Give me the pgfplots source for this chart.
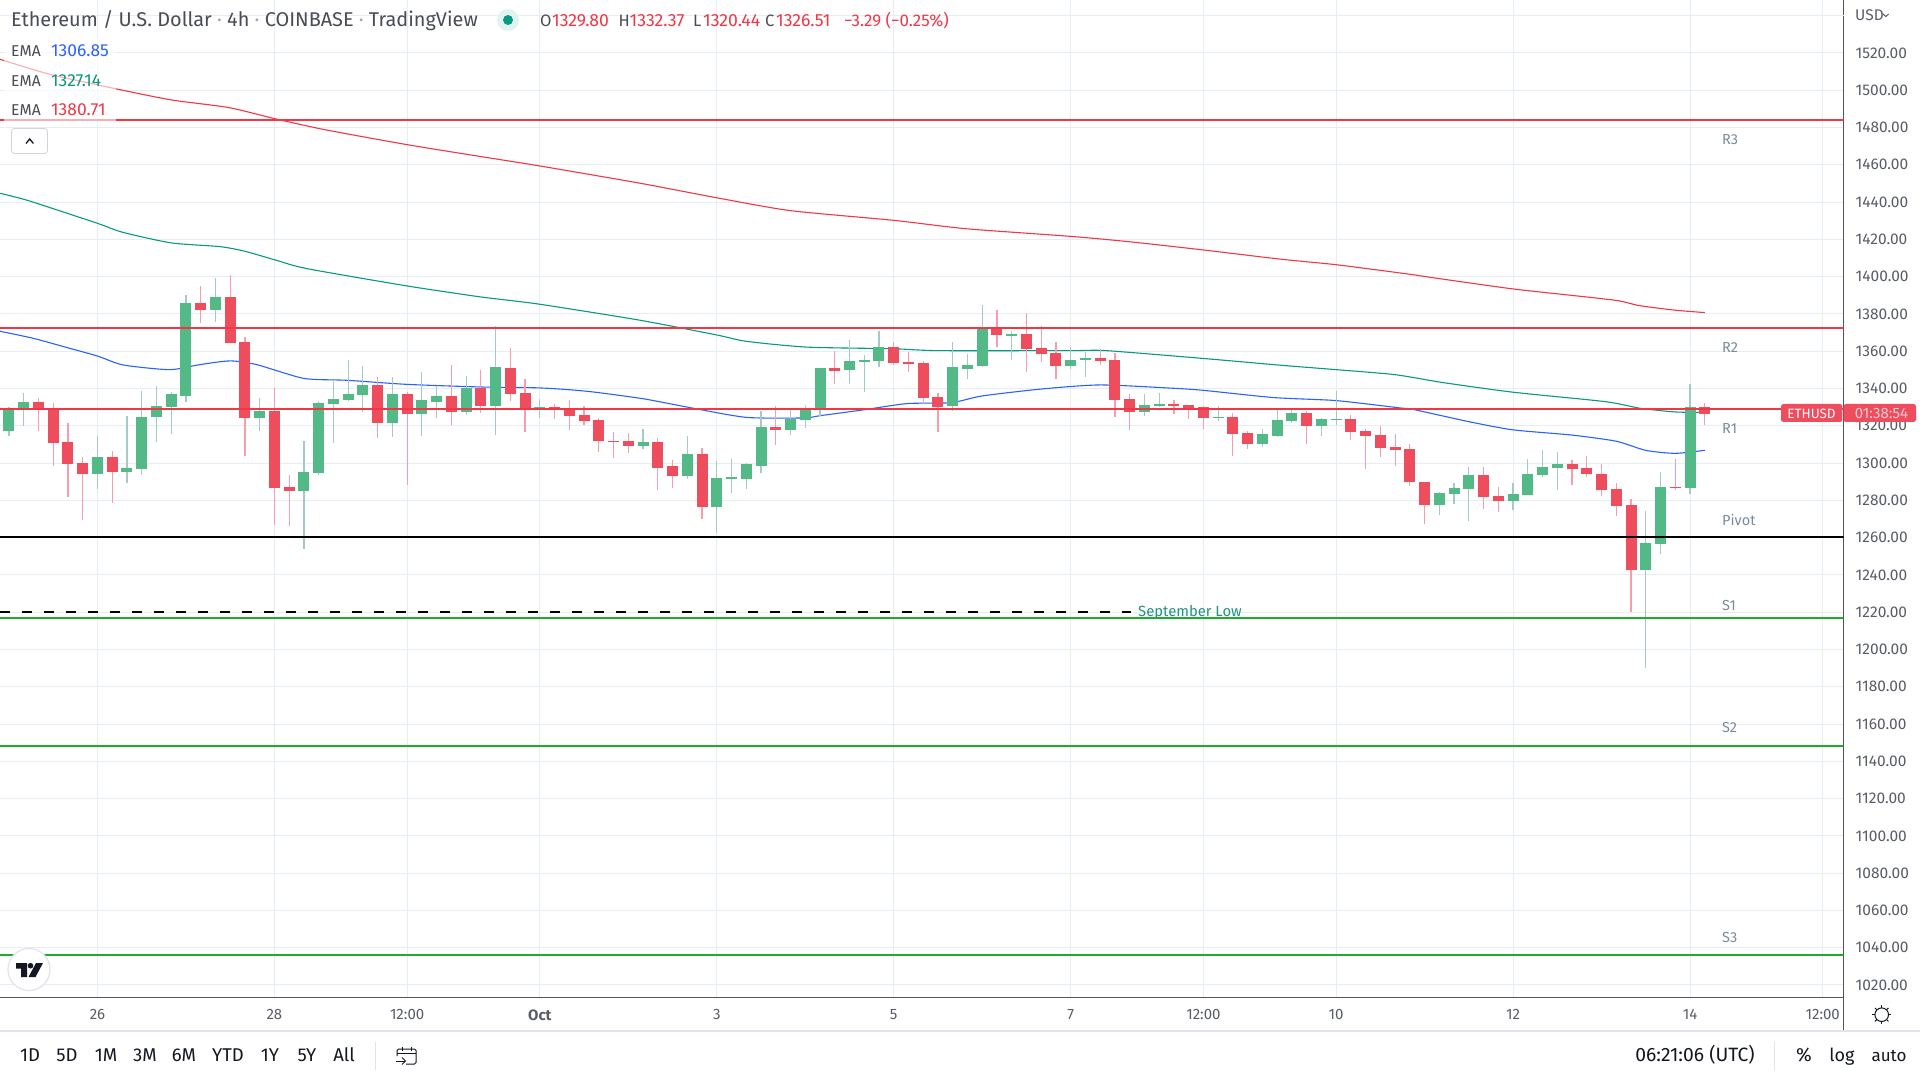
\documentclass[border=0pt]{standalone}
\usepackage{pgfplots}
\pgfplotsset{compat=1.18}
\usepackage{pgfplotstable}
\usepackage{fontspec}
\setmainfont{Fira Sans}
\definecolor{gridc}{HTML}{E6EEF4}
\definecolor{axisc}{HTML}{50535E}
\definecolor{tickc}{HTML}{5A5D68}
\definecolor{bodyG}{HTML}{53B987}
\definecolor{bodyR}{HTML}{EE4D5E}
\definecolor{wickG}{HTML}{A5C9C8}
\definecolor{wickR}{HTML}{F99CAB}
\definecolor{lineR}{HTML}{F23645}
\definecolor{lineG}{HTML}{1CAD2B}
\definecolor{emaB}{HTML}{2962FF}
\definecolor{emaG}{HTML}{089981}
\definecolor{emaR}{HTML}{F23645}
\definecolor{pivotc}{HTML}{7A8B9C}
\definecolor{sepc}{HTML}{E0E3EB}
\definecolor{darkc}{HTML}{131722}
\definecolor{titlec}{HTML}{4A4C55}
\definecolor{dotc}{HTML}{A0A3AC}

\pgfplotstableread{
i top bot hi lo
0 1329 1317.2 1330.1 1314.5
1 1332.8 1329 1337.6 1319.9
6 1303.2 1294.1 1314.5 1286.1
8 1297.4 1295.2 1325.2 1289.3
9 1324.7 1296.8 1338.7 1293.6
10 1330.6 1324.7 1341.3 1311.3
11 1337.1 1330.1 1338.1 1315.6
12 1385.9 1336 1390.2 1332.8
14 1389.1 1382.1 1399.3 1375.7
17 1327.9 1324.2 1334.9 1317.2
20 1295.2 1285 1311.8 1253.9
21 1332.2 1294.7 1333.3 1293.6
22 1334.4 1331.7 1344 1310.8
23 1337.1 1333.8 1355.3 1333.3
24 1341.9 1336.5 1352.1 1327.4
26 1337.1 1321.5 1346.2 1314
28 1333.8 1326.3 1348.9 1314.5
29 1336 1332.8 1341.3 1324.2
31 1340.3 1327.4 1346.7 1325.8
33 1351.5 1330.6 1373.5 1315.1
36 1330.1 1329.5 1334.4 1324.2
43 1311.3 1309.2 1318.3 1307.5
46 1304.9 1293 1314.5 1291.4
48 1292 1276.4 1301.1 1262.5
49 1292.5 1291.4 1302.2 1283.9
50 1299.5 1291.4 1300 1286.1
51 1319.3 1298.4 1327.9 1294.7
53 1323.6 1317.7 1328.5 1315.1
54 1328.5 1323.1 1331.2 1318.8
55 1351 1329.4 1351 1325.2
57 1354.8 1349.9 1366 1342.4
58 1355.3 1354.2 1358 1338.1
59 1362.3 1354.8 1370.8 1351.5
64 1351.5 1330.6 1364.9 1327.9
65 1352.6 1350.5 1358.5 1345.1
66 1371.9 1352.1 1384.8 1351.5
68 1369.2 1368.2 1370.8 1355.3
72 1355.3 1352.1 1362.3 1350.5
73 1356.4 1355.3 1359.6 1346.2
77 1331.1 1327.4 1337.1 1325.2
78 1331.7 1330.6 1337.6 1330.1
82 1324.7 1324.2 1330.6 1322.6
85 1315.6 1310.2 1318.3 1308.6
86 1323.1 1314.5 1328.5 1314
87 1326.9 1322.6 1328.5 1321.5
89 1323.6 1319.9 1324.2 1314.5
90 1323.6 1323.1 1338.7 1320.4
97 1283.9 1277.5 1284.5 1272.1
98 1286.6 1283.4 1289.3 1278
99 1293.6 1286.1 1297.9 1268.9
102 1283.4 1279.6 1289.3 1274.8
103 1294.1 1282.9 1302.2 1282.9
104 1297.9 1293.6 1307 1292.5
105 1299.5 1297.4 1305.9 1285.5
111 1257.1 1242.6 1274.3 1190
112 1287.2 1256.6 1295.2 1251.2
114 1330.1 1286.6 1342.4 1283.4
}\greentable

\pgfplotstableread{
i top bot hi lo
2 1332.8 1329 1334.9 1317.2
3 1329 1310.8 1332.2 1298.4
4 1311.3 1299.5 1321.5 1281.8
5 1300 1294.1 1303.2 1269.4
7 1303.2 1295.2 1306.5 1278.6
13 1385.9 1382.1 1395 1375.1
15 1389.1 1364.4 1400.9 1364.4
16 1364.9 1324.2 1367.6 1303.8
18 1327.9 1286.6 1340.3 1266.8
19 1287.2 1285 1293.6 1266.2
25 1341.9 1321.5 1346.2 1313.4
27 1337.1 1326.3 1338.1 1288.2
30 1336 1327.4 1352.6 1320.4
32 1340.3 1330.6 1349.9 1326.9
34 1351 1337.1 1361.7 1333.3
35 1337.6 1329 1345.1 1316.7
37 1330.1 1329 1331.7 1323.6
38 1329 1325.2 1333.8 1317.7
39 1325.8 1322.6 1330.6 1320.4
40 1323.1 1311.8 1324.2 1305.9
41 1311.8 1311.3 1316.7 1302.7
42 1311.8 1309.2 1316.1 1305.4
44 1311.3 1297.4 1313.4 1285.5
45 1298.4 1293 1301.6 1286.6
47 1304.9 1276.4 1308.1 1270
52 1319.3 1317.7 1330.6 1309.7
56 1351 1349.4 1360.1 1342.4
60 1362.3 1353.7 1364.9 1352.6
61 1354.2 1353.1 1359.6 1348.8
62 1353.7 1334.9 1354.8 1331.7
63 1335.4 1330.1 1337.6 1316.7
67 1371.9 1368.7 1382.1 1362.3
69 1369.2 1361.2 1380.5 1348.8
70 1361.7 1358.5 1373.5 1354.2
71 1359 1352.1 1364.9 1345.1
74 1356.4 1354.8 1361.2 1352.6
75 1355.3 1333.8 1359 1324.7
76 1334.4 1327.4 1337.1 1317.7
79 1331.7 1330.6 1333.8 1326.3
80 1331.1 1329 1331.1 1323.6
81 1330.1 1324.2 1330.6 1318.3
83 1324.7 1315.6 1326.9 1303.8
84 1316.1 1310.2 1317.2 1307.5
88 1326.9 1319.9 1328 1310.2
91 1323.6 1316.7 1325.8 1312.4
92 1317.2 1314.5 1318.3 1296.8
93 1315 1308.1 1319.9 1303.2
94 1308.6 1307 1315.6 1298.4
95 1307.5 1289.8 1310.2 1287.7
96 1289.8 1277.5 1289.8 1267.3
100 1293.6 1281.8 1297.9 1275.4
101 1282.3 1279.6 1287.2 1273.8
106 1299.5 1296.8 1301.6 1288.2
107 1297.4 1294.1 1303.8 1292.5
108 1294.1 1285.5 1299.5 1282.3
109 1286.1 1277 1289.3 1271.6
110 1277.5 1242.6 1280.7 1220.1
113 1287.2 1286.6 1302.2 1285.5
115 1329.8 1326.51 1332.37 1320.44
}\redtable

\newcommand{\lab}[6][west]{\node[anchor=#1,inner sep=0pt,text=#4,text height=0.72em,text depth=0pt,font=\fontsize{#5}{#5}\selectfont] at (#2,{1080-#3-1.5}) {#6};}

\begin{document}
\begin{tikzpicture}[x=1pt,y=1pt]
\path[use as bounding box] (0,0) rectangle (1920,1080);
\fill[white] (0,0) rectangle (1920,1080);
\begin{axis}[
  at={(0pt,82.7pt)}, anchor=south west,
  scale only axis, width=1843.5pt, height=997.3pt,
  xmin=-0.61, xmax=124.41, ymin=1013.4, ymax=1548.4,
  axis y line*=right, axis x line*=bottom,
  axis line style={color=axisc,line width=1.3pt,-},
  tick style={draw=none},
  grid=major,
  major grid style={color=gridc,line width=1pt},
  xtick={6,18,27,36,48,60,72,81,90,102,114,123},
  xticklabels={26,28,12:00,\bfseries Oct,3,5,7,12:00,10,12,14,12:00},
  ytick={1020,1040,...,1520},
  extra y ticks={1540},
  extra y tick labels={},
  extra y tick style={grid=major},
  /pgf/number format/assume math mode=true,
  /pgf/number format/fixed,
  /pgf/number format/fixed zerofill,
  /pgf/number format/precision=2,
  /pgf/number format/1000 sep={},
  scaled y ticks=false,
  yticklabel style={anchor=west,inner sep=0pt,xshift=12pt,text=tickc,font=\fontsize{15.5}{15.5}\selectfont},
  xticklabel style={anchor=north,inner sep=0pt,yshift=-12pt,text=tickc,font=\fontsize{15}{15}\selectfont},
]
% EMA lines
\addplot[emaR,line width=1.1pt,forget plot,smooth,tension=0.4] coordinates {(-0.61,1516.6)(2.7,1508.7)(7.1,1501)(11,1494.8)(14.9,1490.7)(18.2,1484.4)(21.5,1478.7)(27,1470.8)(32,1464.4)(35.9,1459.5)(42.8,1450.1)(48,1442.3)(53,1435.4)(60,1430.2)(64.9,1425.7)(72,1421.6)(76,1418.7)(81,1414.3)(86.2,1409.4)(90,1406.4)(94.5,1401.8)(97.3,1398.6)(102,1393.4)(107.2,1388.9)(109.2,1387)(110.6,1384.4)(113,1382)(115,1380.71)};
\addplot[emaG,line width=1.1pt,forget plot,smooth,tension=0.4] coordinates {(-0.61,1444.7)(1.3,1440.8)(6,1428.6)(7.7,1423.8)(11,1418.1)(14.3,1416.1)(16,1413.6)(18.2,1408.6)(20.2,1404.3)(27,1395)(32,1389.1)(35.9,1385.3)(42.8,1376.6)(48,1368.7)(50,1365.3)(54.1,1362.2)(60,1361.3)(63,1360.3)(72,1360.3)(74.4,1360.3)(81,1356.1)(86.2,1352.5)(90,1350.1)(94,1347.4)(97.3,1343.1)(102,1338)(108.3,1332.9)(110.6,1329.4)(113,1327.4)(115,1327.14)};
\addplot[emaB,line width=1.1pt,forget plot,smooth,tension=0.4] coordinates {(-0.61,1370.7)(1.65,1366.9)(3.91,1362)(6,1357.4)(7.75,1352.6)(10.9,1350.1)(12.95,1352.8)(15,1354.8)(16.8,1352.8)(20,1345.4)(22.9,1344.4)(27,1342.2)(32,1340.8)(36,1340.3)(39.2,1338.5)(43,1334.5)(46.2,1329.7)(50,1324.5)(53.9,1324.2)(55,1325.4)(58,1328.6)(60.9,1331.9)(63.9,1332.4)(66,1336)(70,1339.7)(74,1341.9)(79,1340.1)(81,1339)(85.8,1335.1)(90,1333.5)(94.3,1329.6)(95.2,1328.8)(99,1322.2)(102,1317.8)(106,1315)(109,1311.7)(111,1306.8)(113,1305.2)(115,1306.85)};
% wicks
\addplot[forget plot,draw=none,mark=none,error bars/.cd,y dir=both,y explicit,error mark=none,error bar style={color=wickG,line width=1.2pt}] table[x=i,y=bot,y error plus expr=\thisrow{hi}-\thisrow{bot},y error minus expr=\thisrow{bot}-\thisrow{lo}] {\greentable};
\addplot[forget plot,draw=none,mark=none,error bars/.cd,y dir=both,y explicit,error mark=none,error bar style={color=wickR,line width=1.2pt}] table[x=i,y=bot,y error plus expr=\thisrow{hi}-\thisrow{bot},y error minus expr=\thisrow{bot}-\thisrow{lo}] {\redtable};
% bodies
\addplot[forget plot,draw=none,mark=none,error bars/.cd,y dir=plus,y explicit,error mark=none,error bar style={color=bodyG,line width=11pt}] table[x=i,y=bot,y error plus expr=\thisrow{top}-\thisrow{bot}] {\greentable};
\addplot[forget plot,draw=none,mark=none,error bars/.cd,y dir=plus,y explicit,error mark=none,error bar style={color=bodyR,line width=11pt}] table[x=i,y=bot,y error plus expr=\thisrow{top}-\thisrow{bot}] {\redtable};
% levels
\addplot[lineR,line width=2pt,forget plot] coordinates {(-0.61,1484)(124.41,1484)};
\addplot[lineR,line width=2pt,forget plot] coordinates {(-0.61,1372.4)(124.41,1372.4)};
\addplot[lineR,line width=2pt,forget plot] coordinates {(-0.61,1329)(124.41,1329)};
\addplot[black,line width=2pt,forget plot] coordinates {(-0.61,1260.5)(124.41,1260.5)};
\addplot[black,line width=2pt,dash pattern=on 10pt off 12pt,forget plot] coordinates {(-0.61,1220.1)(76.1,1220.1)};
\addplot[lineG,line width=2pt,forget plot] coordinates {(-0.61,1217.1)(124.41,1217.1)};
\addplot[lineG,line width=2pt,forget plot] coordinates {(-0.61,1148.4)(124.41,1148.4)};
\addplot[lineG,line width=2pt,forget plot] coordinates {(-0.61,1036.1)(124.41,1036.1)};
\end{axis}
% legend veil
\fill[white,opacity=0.6] (4,{1080-38}) rectangle (116,{1080-121});
% level labels
\lab{1722}{139}{pivotc}{14.5}{R3}
\lab{1722}{347}{pivotc}{14.5}{R2}
\lab{1722}{428.5}{pivotc}{14.5}{R1}
\lab{1722}{520}{pivotc}{14.5}{Pivot}
\lab{1722}{605}{pivotc}{14.5}{S1}
\lab{1722}{727}{pivotc}{14.5}{S2}
\lab{1722}{937}{pivotc}{14.5}{S3}
\lab{1138}{611}{emaG!80!gray}{14.8}{September Low}
% title
\lab{11}{21}{titlec}{19.9}{Ethereum / U.S. Dollar \textcolor{dotc}{·} 4h \textcolor{dotc}{·} COINBASE \textcolor{dotc}{·} TradingView}
\fill[emaG!12] (508,{1080-20}) circle (11);
\fill[emaG] (508,{1080-20}) circle (5);
\lab{540}{21}{titlec}{16.5}{O}
\lab{552}{21}{lineR}{17.6}{1329.80}
\lab{618.4}{21}{titlec}{16.5}{H}
\lab{629.5}{21}{lineR}{17.6}{1332.37}
\lab{693}{21}{titlec}{16.5}{L}
\lab{703}{21}{lineR}{17.6}{1320.44}
\lab{765}{21}{titlec}{16.5}{C}
\lab{776}{21}{lineR}{17.6}{1326.51}
\lab{844}{21}{lineR}{16.9}{−3.29 (−0.25\%)}
\lab{11}{51}{titlec}{15.7}{EMA}
\lab{51}{51}{emaB}{17.4}{1306.85}
\lab{11}{81}{titlec}{15.7}{EMA}
\lab{51}{81}{emaG}{17.4}{1327.14}
\lab{11}{110.5}{titlec}{15.7}{EMA}
\lab{51}{110.5}{emaR}{17.4}{1380.71}
% collapse button
\draw[sepc!85!gray,fill=white,line width=0.8pt,rounded corners=3pt] (11.5,{1080-128.5}) rectangle (47.5,{1080-153.5});
\draw[darkc,line width=1.3pt] (26,{1080-143.5}) -- (29.7,{1080-139}) -- (33.4,{1080-143.5});
% USD
\lab{1855}{15.5}{tickc}{15.5}{USD}
\draw[tickc,line width=1pt] (1883,{1080-14}) -- (1885.8,{1080-16.5}) -- (1888.6,{1080-14});
% price tag
\fill[bodyR,rounded corners=2.5pt] (1781,{1080-404}) rectangle (1842.4,{1080-422});
\fill[bodyR,rounded corners=2.5pt] (1843.5,{1080-404}) rectangle (1916,{1080-422});
\lab[center]{1811.5}{413}{white}{13.5}{ETHUSD}
\lab[center]{1881.5}{413}{white!70!bodyR}{15}{01:38:54}
% TV logo
\fill[white,draw=sepc,line width=1.2pt] (29,{1080-969.5}) circle (21);
\fill[darkc] (16,{1080-963}) -- (27,{1080-963}) -- (27,{1080-977}) -- (21,{1080-977}) -- (21,{1080-968.5}) -- (16,{1080-968.5}) -- cycle;
\fill[darkc] (30.5,{1080-965.7}) circle (2.8);
\fill[darkc] (36,{1080-963}) -- (43,{1080-963}) -- (35.5,{1080-977}) -- (28.5,{1080-977}) -- cycle;
% lower chrome
\draw[axisc,line width=1.3pt] (1843.5,{1080-997}) -- (1843.5,{1080-1031});
\draw[sepc,line width=1.2pt] (0,{1080-1031}) -- (1920,{1080-1031});
\foreach \a in {0,45,...,315} {\draw[darkc,line width=1pt] ({1881.7+7*cos(\a)},{1080-1014.7+7*sin(\a)}) -- ({1881.7+9.5*cos(\a)},{1080-1014.7+9.5*sin(\a)});}
\draw[darkc,line width=1pt] (1881.7,{1080-1014.7}) circle (6.8);
\lab[center]{30}{1056}{darkc}{18.5}{1D}
\lab[center]{67}{1056}{darkc}{18.5}{5D}
\lab[center]{106}{1056}{darkc}{18.5}{1M}
\lab[center]{145}{1056}{darkc}{18.5}{3M}
\lab[center]{184}{1056}{darkc}{18.5}{6M}
\lab[center]{228}{1056}{darkc}{18.5}{YTD}
\lab[center]{270}{1056}{darkc}{18.5}{1Y}
\lab[center]{307}{1056}{darkc}{18.5}{5Y}
\lab[center]{344}{1056}{darkc}{18.5}{All}
\draw[sepc,line width=1pt] (375,{1080-1042}) -- (375,{1080-1070});
\draw[sepc,line width=1pt] (1774,{1080-1042}) -- (1774,{1080-1070});
\draw[darkc,line width=1pt,rounded corners=1.5pt] (397,{1080-1056}) -- (397,{1080-1049}) -- (416,{1080-1049}) -- (416,{1080-1064}) -- (406,{1080-1064});
\draw[darkc,line width=1pt] (397,{1080-1053}) -- (416,{1080-1053});
\draw[darkc,line width=1pt] (402,{1080-1046.5}) -- (402,{1080-1051});
\draw[darkc,line width=1pt] (411,{1080-1046.5}) -- (411,{1080-1051});
\draw[darkc,line width=1pt] (396,{1080-1061}) -- (405,{1080-1061});
\draw[darkc,line width=1pt] (402,{1080-1057.5}) -- (405.5,{1080-1061}) -- (402,{1080-1064.5});
\lab[center]{1695}{1056}{darkc}{19.3}{06:21:06 (UTC)}
\lab[center]{1804}{1056}{darkc}{19}{\%}
\lab[center]{1842}{1056}{darkc}{18}{log}
\lab[center]{1889}{1056}{darkc}{17}{auto}
\end{tikzpicture}
\end{document}
